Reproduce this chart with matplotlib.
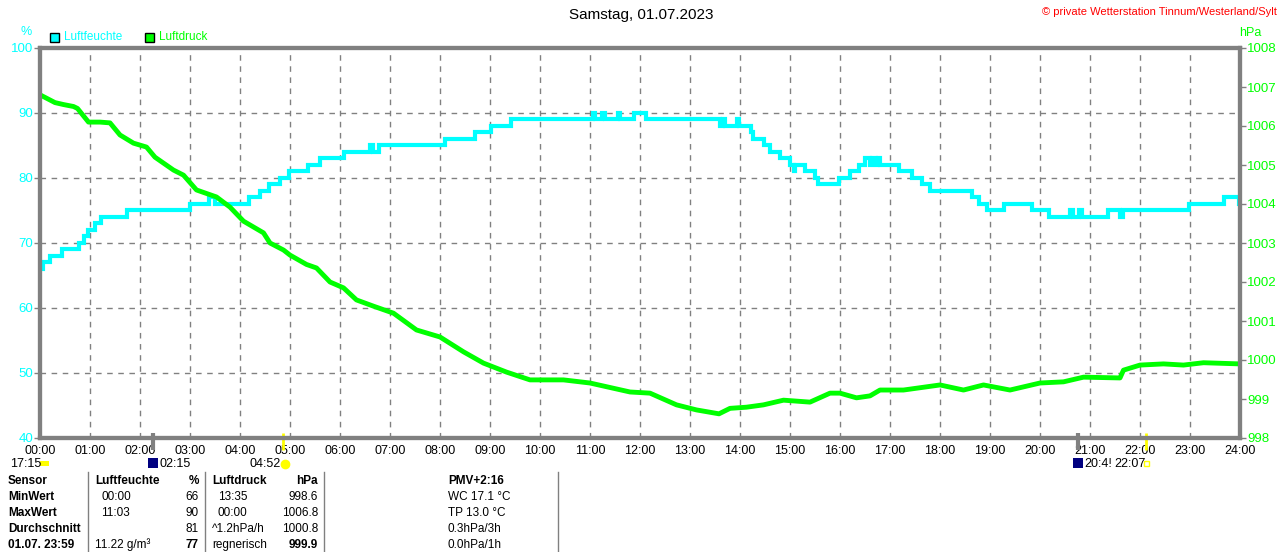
import numpy as np
import matplotlib.pyplot as plt
from matplotlib.patches import Rectangle

plt.rcParams['font.family'] = ['Liberation Sans', 'DejaVu Sans']

# humidity (%) as step values: hour, value
hum_t = [0.0, 0.05, 0.2, 0.43, 0.77, 0.87, 0.95, 1.1, 1.22, 1.73, 3.0, 3.37, 3.5, 4.17, 4.4,
         4.57, 4.8, 4.98, 5.35, 5.6, 6.07, 6.6, 6.65, 6.77, 8.1, 8.7, 9.03, 9.42, 11.05, 11.1,
         11.24, 11.29, 11.56, 11.6, 11.87, 12.12, 13.6, 13.65, 13.7, 13.93, 13.98, 14.21, 14.25,
         14.47, 14.6, 14.8, 15.0, 15.07, 15.1, 15.3, 15.5, 15.55, 15.97, 16.2, 16.37, 16.5, 16.6,
         16.63, 16.72, 16.75, 16.8, 17.17, 17.43, 17.63, 17.8, 18.65, 18.77, 18.93, 19.27, 19.83,
         20.17, 20.6, 20.65, 20.78, 20.83, 21.35, 21.6, 21.65, 22.98, 23.67, 23.97, 24.0]
hum_v = [66, 67, 68, 69, 70, 71, 72, 73, 74, 75, 76, 77, 76, 77, 78,
         79, 80, 81, 82, 83, 84, 85, 84, 85, 86, 87, 88, 89, 90, 89,
         90, 89, 90, 89, 90, 89, 88, 89, 88, 89, 88, 87, 86,
         85, 84, 83, 82, 81, 82, 81, 80, 79, 80, 81, 82, 83, 82,
         83, 82, 83, 82, 81, 80, 79, 78, 77, 76, 75, 76, 75,
         74, 75, 74, 75, 74, 75, 74, 75, 76, 77, 76, 76]

# air pressure (hPa)
pres_t = [0.0, 0.15, 0.3, 0.47, 0.67, 0.75, 0.97, 1.2, 1.4, 1.6, 1.87, 2.13, 2.3, 2.67, 2.87,
          3.13, 3.53, 3.8, 4.07, 4.47, 4.6, 4.87, 5.0, 5.33, 5.53, 5.8, 6.07, 6.33, 6.67, 7.07,
          7.53, 8.0, 8.47, 8.87, 9.33, 9.8, 10.47, 11.0, 11.8, 12.2, 12.73, 13.13, 13.58, 13.8,
          14.13, 14.47, 14.87, 15.4, 15.8, 16.0, 16.33, 16.6, 16.8, 17.27, 18.0, 18.47, 18.87,
          19.4, 20.0, 20.47, 20.87, 21.6, 21.67, 22.0, 22.47, 22.87, 23.27, 24.0]
pres_v = [1006.8, 1006.7, 1006.6, 1006.55, 1006.5, 1006.45, 1006.1, 1006.1, 1006.08, 1005.77,
          1005.56, 1005.46, 1005.2, 1004.87, 1004.74, 1004.36, 1004.18, 1003.92, 1003.56,
          1003.26, 1003.0, 1002.82, 1002.69, 1002.45, 1002.36, 1002.0, 1001.85, 1001.54,
          1001.38, 1001.2, 1000.77, 1000.59, 1000.21, 999.92, 999.69, 999.49, 999.49, 999.41,
          999.18, 999.15, 998.85, 998.72, 998.62, 998.76, 998.79, 998.85, 998.97, 998.92,
          999.15, 999.15, 999.03, 999.08, 999.23, 999.23, 999.36, 999.23, 999.36, 999.23,
          999.41, 999.44, 999.56, 999.54, 999.74, 999.87, 999.9, 999.87, 999.93, 999.9]

hours = list(range(25))
hour_labels = ['%02d:00' % h for h in hours]
hum_ticks = [40, 50, 60, 70, 80, 90, 100]
pres_ticks = list(range(998, 1009))

# sun / moon events (hours)
moonrise = 2.25
sunrise = 4 + 52 / 60
moonset = 20.75
sunset = 22 + 7 / 60

table_rows = [
    ['Sensor', 'MinWert', 'MaxWert', 'Durchschnitt', '01.07. 23:59'],
    ['Luftfeuchte', '00:00', '11:03', '', '11.22 g/m³'],
    ['%', '66', '90', '81', '77'],
    ['Luftdruck', '13:35', '00:00', '^1.2hPa/h', 'regnerisch'],
    ['hPa', '998.6', '1006.8', '1000.8', '999.9'],
    ['PMV+2:16', 'WC 17.1 °C', 'TP 13.0 °C', '0.3hPa/3h', '0.0hPa/1h'],
]

CYAN = '#00ffff'
GREEN = '#00ff00'
GRAY = '#808080'

W, H = 1280, 552
fig = plt.figure(figsize=(12.8, 5.52), dpi=100)
ax = fig.add_axes([40 / W, 1 - 438 / H, 1200 / W, 390 / H])
ax2 = ax.twinx()

ax.step(hum_t, hum_v, where='post', color=CYAN, lw=3, solid_joinstyle='miter')
ax2.plot(pres_t, pres_v, color=GREEN, lw=3.5)

ax.set_xlim(0, 24)
ax.set_ylim(40, 100)
ax2.set_ylim(998, 1008)

ax.set_xticks(hours)
ax.set_xticklabels(hour_labels, fontsize=9)
ax.set_yticks(hum_ticks)
ax.set_yticklabels([str(v) for v in hum_ticks], fontsize=9.5, color=CYAN)
ax2.set_yticks(pres_ticks)
ax2.set_yticklabels([str(v) for v in pres_ticks], fontsize=9.5, color=GREEN)

ax.tick_params(axis='x', length=0, pad=5)
ax.tick_params(axis='y', length=4, width=1, color=GRAY, pad=1)
ax2.tick_params(axis='y', length=4, width=1, color=GRAY, pad=1)

ax.grid(True, color=GRAY, ls=(0, (4, 4)), lw=1)
for a in (ax, ax2):
    for s in a.spines.values():
        s.set_color(GRAY)
        s.set_linewidth(3)

# event ticks under the axis
tr = ax.get_xaxis_transform()
ax.vlines([moonrise, moonset], -0.03, 0.012, color=GRAY, lw=3, transform=tr, clip_on=False)
ax.vlines([sunrise, sunset], -0.03, 0.012, color='#ffff00', lw=2, transform=tr, clip_on=False)

# overlay in pixel coordinates
ov = fig.add_axes([0, 0, 1, 1])
ov.set_xlim(0, W)
ov.set_ylim(H, 0)
ov.axis('off')

ov.text(641, 15, 'Samstag, 01.07.2023', ha='center', va='center', fontsize=11)
ov.text(1277, 12, '© private Wetterstation Tinnum/Westerland/Sylt', ha='right', va='center',
        fontsize=8, color='red')
ov.text(26, 32, '%', ha='center', va='center', fontsize=9, color=CYAN)
ov.text(1250, 33, 'hPa', ha='center', va='center', fontsize=9, color=GREEN)

ov.add_patch(Rectangle((50, 33), 9, 9, facecolor=CYAN, edgecolor='black', lw=1))
ov.text(64, 37.5, 'Luftfeuchte', ha='left', va='center', fontsize=8.5, color=CYAN)
ov.add_patch(Rectangle((145, 33), 9, 9, facecolor=GREEN, edgecolor='black', lw=1))
ov.text(159, 37.5, 'Luftdruck', ha='left', va='center', fontsize=8.5, color=GREEN)

# sun / moon labels
ov.text(10, 464, '17:15', ha='left', va='center', fontsize=9)
ov.add_patch(Rectangle((40, 461), 9, 5, facecolor='#ffff00', edgecolor='none'))
ov.add_patch(Rectangle((148, 458), 10, 10, facecolor='#000080', edgecolor='none'))
ov.text(159, 464, '02:15', ha='left', va='center', fontsize=9)
ov.text(250, 464, '04:52', ha='left', va='center', fontsize=9)
ov.plot([285], [464], marker='o', ms=6, color='#ffff00')
ov.add_patch(Rectangle((1073, 458), 10, 10, facecolor='#000080', edgecolor='none'))
ov.text(1084, 464, '20:4!', ha='left', va='center', fontsize=9)
ov.text(1114, 464, '22:07', ha='left', va='center', fontsize=9)
ov.add_patch(Rectangle((1144, 461), 5, 5, facecolor='none', edgecolor='#ffff00', lw=1))

# table
for xs in [88, 205, 324, 558]:
    ov.plot([xs, xs], [472, H], color=GRAY, lw=1)
row_y = [481, 497, 513, 529, 545]
cols = [(8, 'left'), (95, 'left'), (199, 'right'), (212, 'left'), (318, 'right'), (448, 'left')]
for ci, (x, ha) in enumerate(cols):
    for ri, txt in enumerate(table_rows[ci]):
        bold = ri == 0 or ci == 0 or (ri == 4 and ci in (2, 4))
        xx = x
        if ri in (1, 2) and ci in (1, 3):
            xx = x + 6
        ov.text(xx, row_y[ri], txt, ha=ha, va='center', fontsize=8.5,
                fontweight='bold' if bold else 'normal')

fig.savefig('out.png', dpi=100)
